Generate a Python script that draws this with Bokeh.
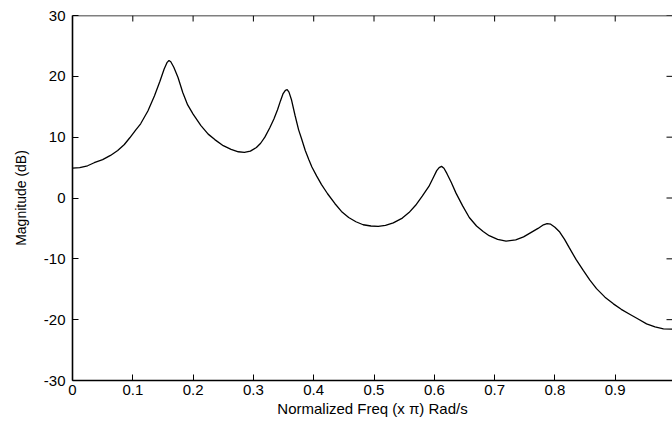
import math
from bokeh.plotting import figure
from bokeh.models import Range1d, LinearAxis, FixedTicker, Span
from bokeh.embed import file_html
from bokeh.resources import INLINE

# Normalized frequency (x pi rad/sample) and magnitude in dB
freq = [0.000, 0.012, 0.025, 0.036, 0.050, 0.063, 0.075, 0.086, 0.095, 0.105,
        0.113, 0.125, 0.136, 0.145, 0.152, 0.157, 0.160, 0.163, 0.168, 0.175,
        0.183, 0.191, 0.200, 0.213, 0.225, 0.236, 0.250, 0.263, 0.275, 0.285,
        0.295, 0.305, 0.312, 0.319, 0.327, 0.334, 0.340, 0.345, 0.349, 0.353,
        0.356, 0.359, 0.363, 0.369, 0.375, 0.380, 0.386, 0.392, 0.397, 0.405,
        0.413, 0.423, 0.435, 0.446, 0.458, 0.470, 0.482, 0.495, 0.507, 0.519,
        0.532, 0.547, 0.558, 0.569, 0.580, 0.591, 0.598, 0.604, 0.608, 0.612,
        0.616, 0.621, 0.628, 0.636, 0.647, 0.658, 0.670, 0.681, 0.691, 0.705,
        0.719, 0.735, 0.748, 0.760, 0.772, 0.781, 0.787, 0.793, 0.800, 0.808,
        0.816, 0.824, 0.835, 0.847, 0.858, 0.869, 0.883, 0.897, 0.910, 0.924,
        0.938, 0.952, 0.966, 0.980, 1.000]
mag_db = [4.9, 5.0, 5.3, 5.8, 6.3, 7.0, 7.8, 8.8, 9.9, 11.2,
          12.2, 14.3, 16.8, 19.2, 21.2, 22.3, 22.6, 22.4, 21.5, 19.8,
          17.3, 15.3, 13.8, 11.9, 10.5, 9.6, 8.6, 8.0, 7.6, 7.5,
          7.7, 8.3, 9.0, 10.0, 11.5, 13.0, 14.5, 16.0, 17.1, 17.7,
          17.8, 17.4, 16.2, 13.6, 11.2, 9.7, 7.8, 6.3, 5.1, 3.6,
          2.2, 0.7, -0.9, -2.2, -3.2, -3.9, -4.4, -4.6, -4.65, -4.5,
          -4.1, -3.3, -2.4, -1.2, 0.3, 1.9, 3.3, 4.5, 5.0, 5.2,
          4.9, 4.0, 2.6, 0.8, -1.3, -3.2, -4.6, -5.5, -6.2, -6.8,
          -7.1, -6.9, -6.4, -5.7, -5.0, -4.4, -4.2, -4.3, -4.8, -5.6,
          -6.8, -8.2, -10.1, -11.9, -13.5, -14.9, -16.3, -17.4, -18.3, -19.1,
          -19.9, -20.7, -21.2, -21.5, -21.6]

x_ticks = [0, 0.1, 0.2, 0.3, 0.4, 0.5, 0.6, 0.7, 0.8, 0.9]
x_tick_labels = ["0", "0.1", "0.2", "0.3", "0.4", "0.5", "0.6", "0.7", "0.8", "0.9"]
y_ticks = [-30, -20, -10, 0, 10, 20, 30]
y_tick_labels = ["-30", "-20", "-10", "0", "10", "20", "30"]

X_START, X_END = 0, 0.995
Y_START, Y_END = -30, 30
FONT = "Liberation Sans"

p = figure(width=672, height=427, output_backend="svg", toolbar_location=None,
           x_range=Range1d(X_START, X_END), y_range=Range1d(Y_START, Y_END),
           min_border_left=72, min_border_right=0, min_border_top=15,
           min_border_bottom=47, x_axis_location=None, y_axis_location=None)
p.outline_line_color = None
p.grid.visible = False
p.background_fill_color = "white"
p.border_fill_color = "white"

def style_axis(ax, ticks, labels):
    ax.ticker = FixedTicker(ticks=ticks)
    ax.major_tick_in = 6
    ax.major_tick_out = 0
    ax.minor_tick_line_color = None
    ax.major_tick_line_color = "black"
    ax.major_tick_line_width = 1
    ax.axis_line_color = "black"
    ax.axis_line_width = 1.6
    ax.major_label_overrides = {t: l for t, l in zip(ticks, labels)}
    ax.major_label_text_font = FONT
    ax.major_label_text_font_size = "15px"
    ax.major_label_text_color = "black"

bottom = LinearAxis(axis_label="Normalized Freq (x π) Rad/s")
style_axis(bottom, x_ticks, x_tick_labels)
bottom.major_label_standoff = 4
bottom.axis_label_text_font = FONT
bottom.axis_label_text_font_size = "15px"
bottom.axis_label_text_font_style = "normal"
bottom.axis_label_text_color = "black"
bottom.axis_label_standoff = 2
p.add_layout(bottom, "below")

left = LinearAxis(axis_label="Magnitude (dB)")
style_axis(left, y_ticks, y_tick_labels)
left.major_label_standoff = 7
left.axis_label_text_font = FONT
left.axis_label_text_font_size = "14px"
left.axis_label_text_font_style = "normal"
left.axis_label_text_color = "black"
left.axis_label_standoff = 12
p.add_layout(left, "left")

# top border of the box, with inward ticks on top and right sides
p.add_layout(Span(location=Y_END, dimension="width", line_color="black", line_width=1.6))
p.ray(x=x_ticks, y=[Y_END] * len(x_ticks), length=6, length_units="screen",
      angle=-math.pi / 2, line_color="black", line_width=1)
p.ray(x=[X_END] * len(y_ticks), y=y_ticks, length=6, length_units="screen",
      angle=math.pi, line_color="black", line_width=1)

p.line(freq, mag_db, line_color="black", line_width=1.3)

open("out.html", "w").write(file_html(p, INLINE))
